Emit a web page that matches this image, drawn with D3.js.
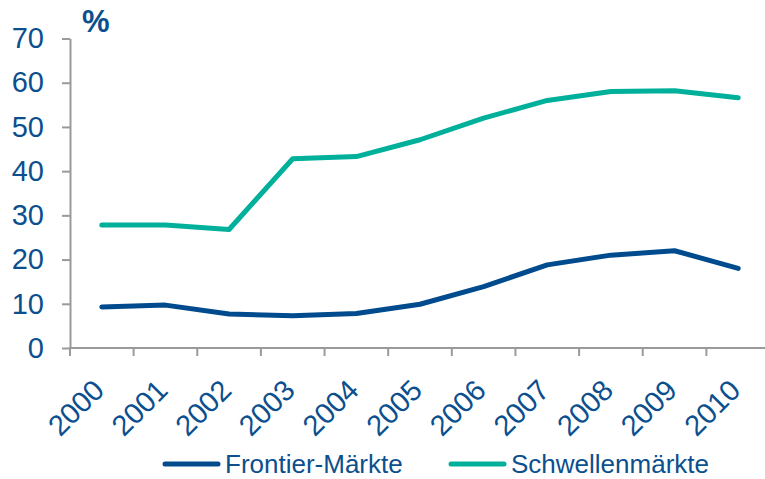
<!DOCTYPE html>
<html>
<head>
<meta charset="utf-8">
<script src="https://cdn.jsdelivr.net/npm/d3@7"></script>
<style>
  body { margin: 0; background: #fff; }
  text { font-family: "Liberation Sans", Arial, sans-serif; }
</style>
</head>
<body>
<svg id="chart" width="765" height="479"></svg>
<script>
// chart data
const years = ["2000", "2001", "2002", "2003", "2004", "2005", "2006", "2007", "2008", "2009", "2010"];
const frontier = [9.3, 9.7, 7.7, 7.3, 7.8, 9.9, 13.9, 18.8, 21.0, 22.0, 18.0];
const schwellen = [27.8, 27.8, 26.8, 42.8, 43.3, 47.1, 52.0, 56.0, 58.0, 58.2, 56.6];
const yTicks = [0, 10, 20, 30, 40, 50, 60, 70];
const seriesNames = ["Frontier-Märkte", "Schwellenmärkte"];

const TEXT_COLOR = "#0b4f8e";
const AXIS_COLOR = "#9a9a9a";
const COLORS = ["#004b8d", "#00b09b"];

const svg = d3.select("#chart");

// scales
const x = d3.scaleBand().domain(years).range([70, 770]).padding(0);
const y = d3.scaleLinear().domain([0, 70]).range([348, 38.5]);

// y axis
const yAxis = svg.append("g").attr("transform", "translate(70,0)")
    .call(d3.axisLeft(y).tickValues(yTicks).tickSize(8).tickSizeOuter(0).tickPadding(18));
yAxis.select(".domain").attr("stroke", AXIS_COLOR).attr("stroke-width", 2);
yAxis.selectAll(".tick line").attr("stroke", AXIS_COLOR).attr("stroke-width", 2);
yAxis.selectAll(".tick text")
    .attr("fill", TEXT_COLOR)
    .style("font-size", "29px");

// x axis, ticks on band edges
const xAxisG = svg.append("g").attr("transform", "translate(0,348)");
xAxisG.append("line")
    .attr("x1", 69).attr("x2", 770)
    .attr("stroke", AXIS_COLOR).attr("stroke-width", 2);
xAxisG.selectAll("line.tick")
    .data(years)
    .join("line")
    .attr("class", "tick")
    .attr("x1", d => x(d)).attr("x2", d => x(d))
    .attr("y1", 0).attr("y2", 8)
    .attr("stroke", AXIS_COLOR).attr("stroke-width", 2);
xAxisG.selectAll("text")
    .data(years)
    .join("text")
    .attr("transform", d => "translate(" + (x(d) + x.bandwidth() / 2 + 4) + ",44) rotate(-45)")
    .attr("text-anchor", "end")
    .attr("fill", TEXT_COLOR)
    .style("font-size", "29px")
    .text(d => d);

// unit label
svg.append("text")
    .attr("x", 82).attr("y", 32)
    .attr("fill", TEXT_COLOR)
    .style("font-size", "31px")
    .style("font-weight", "bold")
    .text("%");

// lines
const line = d3.line()
    .x((d, i) => x(years[i]) + x.bandwidth() / 2)
    .y(d => y(d));

[frontier, schwellen].forEach((s, k) => {
    svg.append("path")
        .datum(s)
        .attr("d", line)
        .attr("fill", "none")
        .attr("stroke", COLORS[k])
        .attr("stroke-width", 5)
        .attr("stroke-linejoin", "round")
        .attr("stroke-linecap", "round");
});

// legend
const legendX = [165, 451];
const legend = svg.append("g");
seriesNames.forEach((name, k) => {
    legend.append("line")
        .attr("x1", legendX[k]).attr("x2", legendX[k] + 53)
        .attr("y1", 464).attr("y2", 464)
        .attr("stroke", COLORS[k]).attr("stroke-width", 5)
        .attr("stroke-linecap", "round");
    legend.append("text")
        .attr("x", legendX[k] + 60).attr("y", 473)
        .attr("fill", TEXT_COLOR)
        .style("font-size", "26px")
        .text(name);
});
</script>
</body>
</html>
